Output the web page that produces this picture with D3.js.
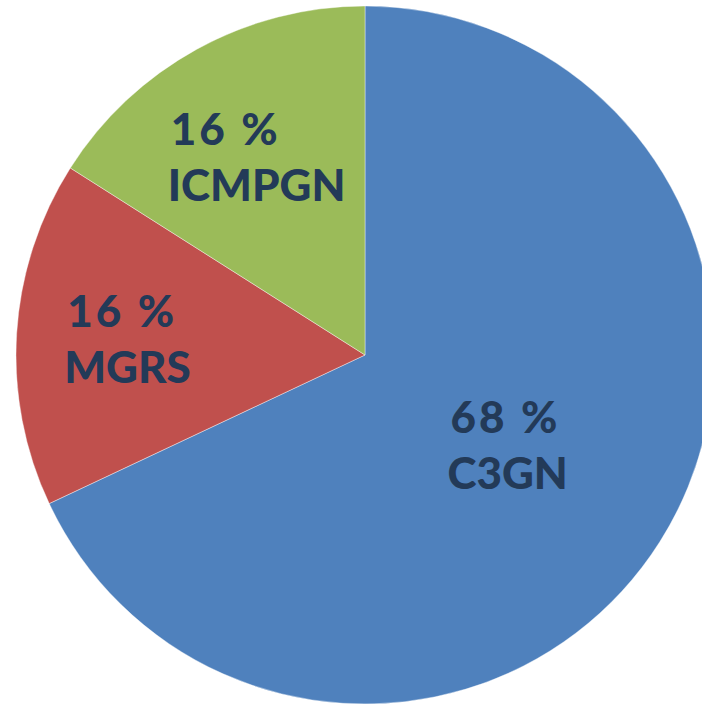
<!DOCTYPE html>
<html><head><meta charset="utf-8">
<script src="https://cdn.jsdelivr.net/npm/d3@7"></script>
<style>html,body{margin:0;padding:0;background:#fff;overflow:hidden}</style>
</head><body>
<svg id="c" width="702" height="706"></svg>
<script>
const categories = ["C3GN", "MGRS", "ICMPGN"];
const values = [68, 16, 16];
const percentLabels = ["68 %", "16 %", "16 %"];
const colors = ["#4F81BD", "#C0504D", "#9BBB59"];

const svg = d3.select("#c");
const cx = 365, cy = 355, R = 349;
const g = svg.append("g").attr("transform", `translate(${cx},${cy})`);

const pie = d3.pie().sort(null).value(d => d.v);
const data = pie(categories.map((c, i) => ({c, v: values[i], p: percentLabels[i], col: colors[i]})));
const arc = d3.arc().innerRadius(0).outerRadius(R);

g.selectAll("path").data(data).enter().append("path")
  .attr("d", arc).attr("fill", d => d.data.col)
  .attr("stroke", "#fff").attr("stroke-width", 0.4);

const labelR = {C3GN: 169, MGRS: 238, ICMPGN: 225};
const lineGap = 56;
data.forEach(d => {
  const r = labelR[d.data.c];
  const la = d3.arc().innerRadius(r).outerRadius(r);
  const [x, y] = la.centroid(d);
  const t = g.append("text")
    .attr("font-family", "Lato, 'Open Sans', sans-serif")
    .attr("font-weight", 900)
    .attr("font-size", 44)
    .attr("fill", "#233A58");
  const t1 = t.append("tspan").attr("letter-spacing", 3).text(d.data.p);
  const t2 = t.append("tspan").text(d.data.c);
  const w = Math.max(t1.node().getComputedTextLength(), t2.node().getComputedTextLength());
  const left = x - w / 2;
  t1.attr("x", left + 3).attr("y", y - 13);
  t2.attr("x", left).attr("y", y - 13 + lineGap);
});
</script>
</body></html>
